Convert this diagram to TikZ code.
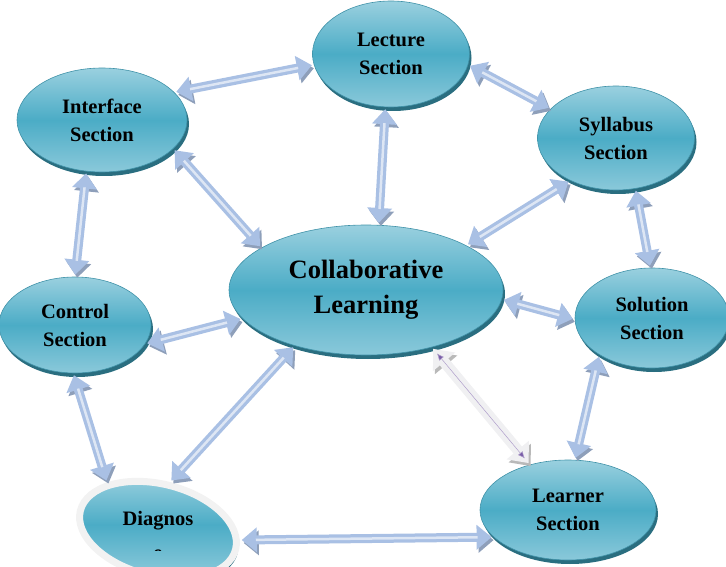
\documentclass[tikz,border=0pt]{standalone}
\usepackage{fontspec}
\setmainfont{Liberation Serif}
\usetikzlibrary{shapes.geometric,arrows.meta,shadows}
\definecolor{aqua}{HTML}{4BACC6}
\definecolor{aqualt}{HTML}{9AD0DF}
\definecolor{aquadk}{HTML}{2A6E80}
\definecolor{linkblue}{HTML}{A9C0E4}
\definecolor{linkshade}{HTML}{8E9FBA}
\definecolor{linkgrey}{HTML}{F0F0F2}
\definecolor{linkpurple}{HTML}{7A5EA8}
\tikzset{
  sect/.style={ellipse, draw=aqua!85!black, line width=0.6pt, top color=aqualt,
    bottom color=aqualt!80!aqua, middle color=aqua, inner sep=0pt, align=center,
    font=\fontsize{20.5}{28}\selectfont\bfseries,
    drop shadow={shadow xshift=2pt, shadow yshift=-4pt, fill=aquadk, opacity=1}},
  link/.style={line width=9pt, draw=linkblue,
    {Triangle[length=15pt,width=24pt]}-{Triangle[length=15pt,width=24pt]},
    shorten <=2pt, shorten >=2pt,
    preaction={draw=linkshade, transform canvas={shift={(2pt,-3pt)}}},
    postaction={draw=white!60!linkblue, line width=2.5pt, -, shorten <=16pt, shorten >=16pt}},
  linkw/.style={line width=11pt, draw=linkgrey,
    {Triangle[length=17pt,width=28pt]}-{Triangle[length=17pt,width=28pt]},
    shorten <=2pt, shorten >=2pt,
    preaction={draw=gray!55, transform canvas={shift={(2pt,-3pt)}}},
    postaction={draw=linkpurple!60, line width=0.5pt,
      {Latex[length=7pt,width=6pt,fill=linkpurple]}-{Latex[length=7pt,width=6pt,fill=linkpurple]},
      shorten <=8pt, shorten >=8pt}},
}
\begin{document}
\begin{tikzpicture}[x=1pt,y=-1pt]
\useasboundingbox (0,0) rectangle (726,567);
% sections
\node[sect, minimum width=157pt, minimum height=106pt] (lect) at (391,54) {Lecture\\Section};
\node[sect, minimum width=170pt, minimum height=104pt] (intf) at (102,120) {Interface\\Section};
\node[sect, minimum width=157pt, minimum height=104pt] (syll) at (616,138) {Syllabus\\Section};
\node[sect, minimum width=274pt, minimum height=130pt,
  font=\fontsize{26.5}{35}\selectfont\bfseries] (collab) at (366,290) {Collaborative\\Learning};
\node[sect, minimum width=152pt, minimum height=96pt] (ctrl) at (75,325) {Control\\Section};
\node[sect, minimum width=154pt, minimum height=100pt] (sol) at (652,318) {Solution\\Section};
\node[sect, minimum width=176pt, minimum height=100pt] (lrn) at (568,510) {Learner\\Section};
\node[sect, draw=white!90!gray, line width=7pt, rotate=-14,
  minimum width=160pt, minimum height=92pt] (diag) at (158,530) {};
\begin{scope}
\clip (0,0) rectangle (726,550);
\node[font=\fontsize{20.5}{34}\selectfont\bfseries, align=center, anchor=north] (diagtxt) at (158,508) {Diagnos\\e};
\end{scope}
% links
\draw[link] (intf.21) -- (lect.188);
\draw[link] (lect.352) -- (syll.156);
\draw[link] (intf.253) -- (ctrl.90);
\draw[link] (intf.338) -- (collab.158);
\draw[link] (lect.264) -- (collab.79);
\draw[link] (syll.223) -- (collab.24);
\draw[link] (syll.291) -- (sol.92);
\draw[link] (collab.356) -- (sol.181);
\draw[link] (ctrl.-15) -- (collab.193);
\draw[link] (ctrl.268) -- (diag.151);
\draw[link] (collab.218) -- (diag.90);
\draw[linkw] (collab.319) -- (lrn.130);
\draw[link] (sol.215) -- (lrn.82);
\draw[link] (diag.7) -- (lrn.200);
\end{tikzpicture}
\end{document}
